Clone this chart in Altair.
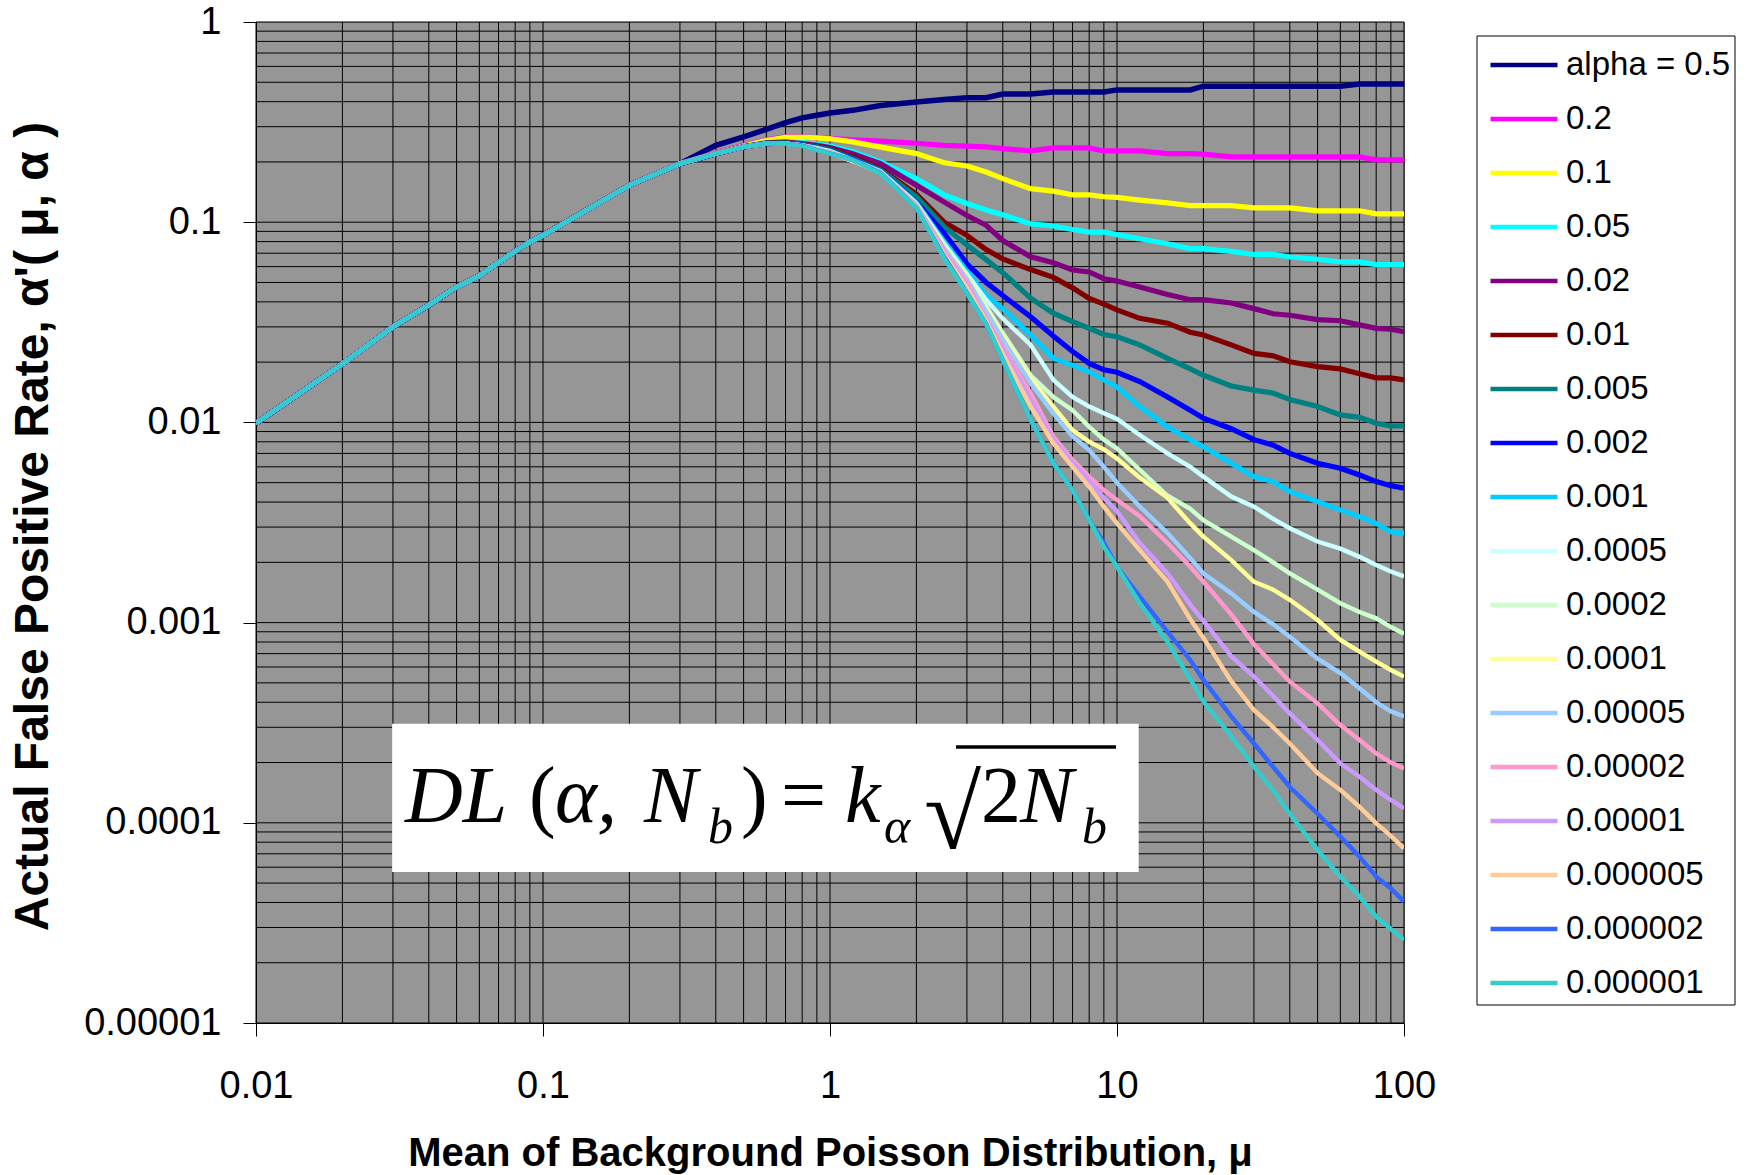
import altair as alt
import pandas as pd

SERIES = ["alpha = 0.5", "0.2", "0.1", "0.05", "0.02", "0.01", "0.005", "0.002", "0.001",
          "0.0005", "0.0002", "0.0001", "0.00005", "0.00002", "0.00001", "0.000005",
          "0.000002", "0.000001"]
COLORS = ["#000080", "#FF00FF", "#FFFF00", "#00FFFF", "#800080", "#800000", "#008080",
          "#0000FF", "#00CCFF", "#CCFFFF", "#CCFFCC", "#FFFF99", "#99CCFF", "#FF99CC",
          "#CC99FF", "#FFCC99", "#3366FF", "#33CCCC"]
WIDTHS = [5.5, 5.2, 5.2, 5.2, 5.2, 5.2, 5.2, 5.2, 5, 4.4, 4.4, 4.4, 4.4, 4.4, 4.4, 4.4, 4.4, 4.4]

# shared rising part (all curves coincide)
MU_COMMON = [0.01, 0.02, 0.03, 0.04, 0.05, 0.06, 0.07, 0.08, 0.09, 0.1, 0.2, 0.3]
RATE_COMMON = [0.0099, 0.0196, 0.030, 0.0385, 0.0475, 0.054, 0.063, 0.0716, 0.0796, 0.086, 0.153, 0.196]

MU_TAIL = [0.4, 0.5, 0.6, 0.7, 0.8, 0.9, 1, 1.2, 1.5, 2, 2.5, 3, 3.5, 4, 5, 6, 7, 8, 9,
           10, 12, 15, 18, 20, 25, 30, 35, 40, 50, 60, 70, 80, 90, 100]

R_05 = [.242, .267, .291, .314, .332, .342, .351, .362, .383, .398, .41, .419, .419, .437,
        .437, .447, .447, .447, .447, .458, .458, .458, .458, .478, .478, .478, .478, .478,
        .478, .478, .49, .49, .49, .49]
R_02 = [.222, .242, .258, .267, .266, .264, .262, .258, .254, .248, .242, .240, .238, .233,
        .227, .235, .235, .235, .227, .227, .227, .22, .22, .219, .212, .212, .212, .212,
        .212, .212, .212, .205, .205, .205]
R_01 = [.221, .240, .256, .265, .265, .264, .261, .252, .237, .220, .198, .191, .178, .165,
        .147, .143, .137, .137, .134, .133, .129, .125, .121, .121, .121, .118, .118, .118,
        .114, .114, .114, .110, .110, .110]
R_005 = [.220, .238, .250, .253, .250, .246, .240, .225, .200, .165, .137, .124, .115, .109,
         .098, .0957, .092, .0893, .0893, .0867, .0827, .078, .0738, .0738, .0715, .069, .069, .067,
         .0653, .0633, .0633, .0614, .0614, .0614]
R_002 = [.220, .238, .249, .251, .247, .242, .236, .220, .196, .153, .126, .108, .0965, .081,
         .0672, .0628, .0577, .0564, .0522, .0508, .0475, .0435, .041, .041, .0395, .037, .0349, .0343,
         .0326, .0322, .0307, .0295, .0292, .0284]
R_001 = [.220, .238, .248, .250, .245, .240, .232, .212, .185, .138, .100, .086, .073, .0655,
         .058, .053, .047, .0416, .039, .0365, .0331, .0313, .0282, .0273, .0244, .0221, .0215, .0201,
         .019, .0185, .0175, .0167, .0167, .0163]
R_0005 = [.220, .238, .248, .249, .244, .238, .230, .208, .182, .134, .095, .077, .065, .056,
          .0417, .0351, .0319, .0295, .0275, .0268, .0244, .0209, .0185, .0172, .0152, .0145, .014, .013,
          .012, .0109, .0106, .0099, .0096, .0096]
R_0002 = [.220, .238, .247, .248, .243, .236, .228, .206, .180, .126, .088, .062, .05, .043,
          .0337, .027, .0226, .0197, .0183, .0178, .016, .0134, .0115, .0105, .0093, .0082, .0077, .007,
          .00625, .0059, .00546, .00506, .00483, .00469]
R_0001 = [.220, .238, .247, .247, .242, .235, .227, .205, .180, .125, .080, .057, .043, .037,
          .0273, .0209, .0193, .0179, .0163, .0150, .012, .0095, .0082, .00756, .00625, .00536, .00506, .00451,
          .00402, .00365, .00338, .00313, .00284, .00279]
R_00005 = [.220, .238, .247, .247, .242, .234, .226, .204, .179, .124, .078, .055, .041, .033,
           .0244, .0163, .0134, .012, .0111, .0104, .00865, .007, .006, .00536, .00426, .00379, .0033, .00296,
           .00254, .00234, .00213, .00194, .0018, .0017]
R_00002 = [.220, .238, .247, .247, .242, .233, .225, .204, .178, .123, .076, .054, .038, .028,
           .0172, .0134, .0115, .0095, .0082, .0074, .0058, .0043, .0037, .00325, .00269, .0023, .002, .00176,
           .00146, .00125, .00113, .00105, .00095, .00088]
R_00001 = [.220, .238, .247, .247, .242, .233, .225, .204, .178, .123, .075, .053, .037, .027,
           .0165, .012, .00916, .008, .00733, .0066, .0053, .0042, .00313, .00269, .00205, .0016, .00146, .0013,
           .00103, .00082, .000716, .000638, .00058, .000537]
R_000005 = [.220, .238, .247, .247, .242, .232, .224, .203, .178, .122, .074, .052, .036, .026,
            .0157, .0111, .0085, .00728, .006, .005, .0038, .0028, .0021, .00176, .0014, .00113, .00098, .00085,
            .00066, .00056, .00047, .0004, .00036, .00034]
R_000002 = [.220, .238, .247, .247, .242, .232, .223, .203, .177, .121, .072, .050, .033, .0239,
            .014, .0085, .0065, .00536, .00459, .0041, .0034, .0025, .0019, .0016, .0011, .00078, .00062, .000507,
            .000395, .000308, .000259, .000222, .0002, .000187]
R_000001 = [.220, .238, .247, .247, .242, .231, .222, .202, .177, .120, .070, .048, .032, .023,
            .013, .0082, .0063, .0051, .0042, .0036, .0025, .00176, .00123, .00102, .00068, .000537, .00043, .000352,
            .000259, .000198, .00017, .000146, .00013, .000118]
R_0000005 = [.220, .238, .247, .247, .242, .231, .222, .202, .176, .119, .069, .047, .032, .022,
             .012, .00786, .006, .00477, .00379, .00313, .0023, .0016, .00104, .00084, .00051, .000366, .0003, .000249,
             .000177, .000146, .00012, .0000994, .000086, .0000746]
R_0000002 = [.220, .238, .247, .247, .241, .230, .221, .205, .176, .118, .067, .0445, .031, .0205,
             .0103, .00625, .00459, .00325, .0025, .0019, .00135, .0009, .00065, .000517, .00034, .000249, .00019, .000151,
             .000111, .0000853, .0000677, .0000538, .000047, .0000404]
R_0000001 = [.220, .238, .247, .247, .240, .229, .220, .204, .175, .118, .066, .0442, .031, .0205,
             .0103, .00625, .00459, .00325, .00239, .0019, .00125, .0008, .00052, .000403, .00027, .000191, .000145, .000111,
             .0000731, .0000538, .0000428, .000034, .0000295, .000026]

TAILS = [R_05, R_02, R_01, R_005, R_002, R_001, R_0005, R_0002, R_0001, R_00005, R_00002,
         R_00001, R_000005, R_000002, R_000001, R_0000005, R_0000002, R_0000001]

X_TICKS = [0.01, 0.1, 1, 10, 100]
X_TICK_LABELS = ["0.01", "0.1", "1", "10", "100"]
Y_TICKS = [0.00001, 0.0001, 0.001, 0.01, 0.1, 1]
Y_TICK_LABELS = ["0.00001", "0.0001", "0.001", "0.01", "0.1", "1"]

GRID_X = [k * 10.0 ** e for e in range(-2, 2) for k in range(1, 10)] + [100.0]
GRID_Y = [k * 10.0 ** e for e in range(-5, 0) for k in range(1, 10)] + [1.0]

# formula box, in data coordinates
BOX_MU = [0.0298, 11.9]
BOX_RATE = [0.0000568, 0.000312]

X_TITLE = "Mean of Background Poisson Distribution, μ"
Y_TITLE = "Actual False Positive Rate,  α'( μ, α )"

W, H = 1148, 1001
FONT = "Liberation Sans"
SERIF = "Liberation Serif"

XS = alt.Scale(type="log", domain=[0.01, 100], nice=False)
YS = alt.Scale(type="log", domain=[0.00001, 1], nice=False)


def label_array(labels):
    return "[" + ",".join("'%s'" % s for s in labels) + "]"


X_AXIS = alt.Axis(values=X_TICKS, grid=False, tickSize=13, tickColor="black", domainColor="black",
                  labelExpr=label_array(X_TICK_LABELS) + "[round(log(datum.value)/LN10)+2]",
                  labelFont=FONT, labelFontSize=38, labelColor="black", labelPadding=31,
                  labelFlush=False, labelOverlap=False,
                  title=X_TITLE, titleFont=FONT, titleFontSize=40, titleFontWeight="bold",
                  titleColor="black", titleX=W / 2, titleY=130, titleBaseline="middle")
Y_AXIS = alt.Axis(values=Y_TICKS, grid=False, tickSize=13, tickColor="black", domainColor="black",
                  labelExpr=label_array(Y_TICK_LABELS) + "[round(log(datum.value)/LN10)+5]",
                  labelFont=FONT, labelFontSize=38, labelColor="black", labelPadding=22,
                  labelFlush=False, labelOverlap=False,
                  title=Y_TITLE, titleFont=FONT, titleFontSize=48, titleFontWeight="bold",
                  titleColor="black", titleX=-223, titleY=504, titleBaseline="middle")


def xenc(field="mu"):
    return alt.X(field + ":Q", scale=XS, axis=X_AXIS)


def yenc(field="rate"):
    return alt.Y(field + ":Q", scale=YS, axis=Y_AXIS)


rows = []
for name, tail in zip(SERIES, TAILS):
    for m, r in zip(MU_COMMON + MU_TAIL, RATE_COMMON + tail):
        rows.append({"series": name, "mu": m, "rate": r})
df = pd.DataFrame(rows)

grid_v = alt.Chart(pd.DataFrame({"mu": GRID_X})).mark_rule(color="black", strokeWidth=1).encode(x=xenc())
grid_h = alt.Chart(pd.DataFrame({"rate": GRID_Y})).mark_rule(color="black", strokeWidth=1).encode(y=yenc())

box = alt.Chart(pd.DataFrame({"mu": [BOX_MU[0]], "mu2": [BOX_MU[1]],
                              "rate": [BOX_RATE[0]], "rate2": [BOX_RATE[1]]})).mark_rect(
    fill="white").encode(x=xenc(), x2="mu2:Q", y=yenc(), y2="rate2:Q")

# formula pieces: (text, x, y, size, style)
PIECES = [
    ("DL", 149, 800, 80, "italic"),
    ("(", 273, 800, 80, "normal"),
    ("α,", 299, 800, 80, "italic"),
    ("N", 388, 800, 80, "italic"),
    ("b", 452, 821, 50, "italic"),
    (")", 485, 800, 80, "normal"),
    ("=", 525, 800, 80, "normal"),
    ("k", 589, 800, 80, "italic"),
    ("α", 628, 821, 50, "italic"),
    ("√", 668, 826, 104, "normal"),
    ("2", 725, 800, 80, "normal"),
    ("N", 764, 800, 80, "italic"),
    ("b", 826, 821, 50, "italic"),
]
texts = []
for t, x, y, s, st in PIECES:
    texts.append(alt.Chart(pd.DataFrame({"t": [t]})).mark_text(
        align="left", baseline="alphabetic", font=SERIF, fontSize=s, fontStyle=st, color="black"
    ).encode(x=alt.value(x), y=alt.value(y), text="t:N"))
overline = alt.Chart(pd.DataFrame({"a": [0]})).mark_rule(color="black", strokeWidth=3.5).encode(
    x=alt.value(700), x2=alt.value(860), y=alt.value(725))

# legend frame (decoration behind the legend entries)
legend_frame = alt.Chart(pd.DataFrame({"a": [0]})).mark_rect(
    fill="white", stroke="black", strokeWidth=1, clip=False).encode(
    x=alt.value(1221), x2=alt.value(1479), y=alt.value(14), y2=alt.value(983))

LEGEND = alt.Legend(title=None, orient="none", legendX=1221, legendY=-4, symbolType="stroke",
                    symbolSize=4489, symbolStrokeWidth=4.5, labelFont=FONT, labelFontSize=33,
                    labelColor="black", labelOffset=6, labelLimit=0, padding=11,
                    rowPadding=1, symbolOpacity=1)

lines = []
for name, w in zip(SERIES, WIDTHS):
    lines.append(alt.Chart(df[df.series == name]).mark_line(strokeWidth=w, clip=True).encode(
        x=xenc(), y=yenc(),
        color=alt.Color("series:N", scale=alt.Scale(domain=SERIES, range=COLORS), legend=LEGEND),
        order="mu:Q"))

chart = alt.layer(grid_v, grid_h, box, *texts, overline, legend_frame, *lines).properties(
    width=W, height=H,
    padding={"left": 256, "top": 22, "right": 343, "bottom": 152},
    autosize=alt.AutoSizeParams(type="none"),
    background="white",
).configure_view(fill="#969696", stroke="#777777", strokeWidth=1)

chart.save("out.html", embed_options={"renderer": "svg", "actions": False})
